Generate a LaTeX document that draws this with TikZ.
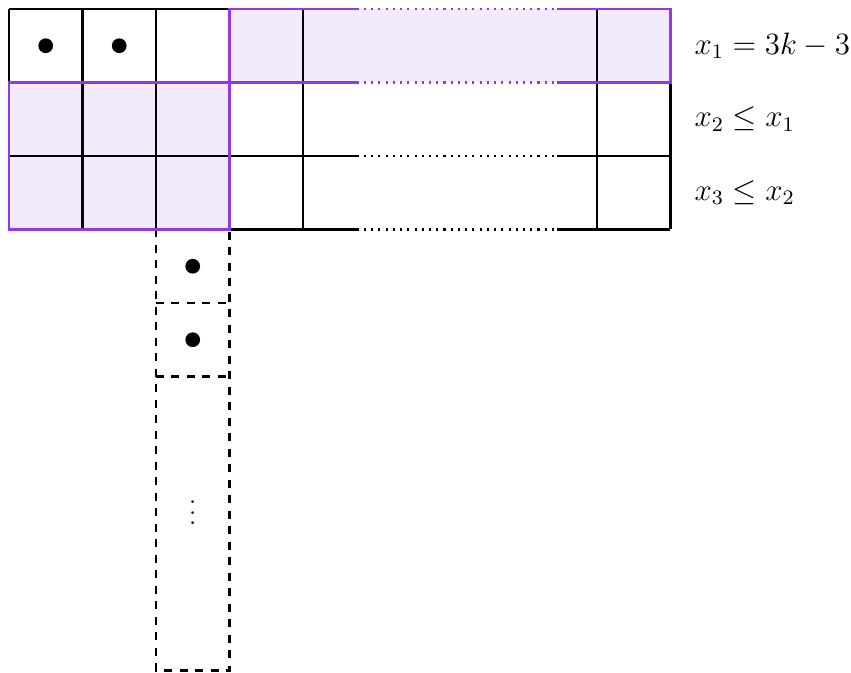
\documentclass[tikz,border=0pt]{standalone}
\usepackage{amssymb}
\usetikzlibrary{positioning}
\definecolor{gridviolet}{RGB}{146,56,232}
\definecolor{gridlilac}{RGB}{243,234,253}
\tikzset{
  gline/.style={draw=black,thick},
  vline/.style={draw=gridviolet,thick},
  vfill/.style={fill=gridlilac},
  ghost/.style={draw=black,thick,dashed},
  token/.style={circle,fill=black,minimum size=2mm,inner sep=0pt},
  rowlab/.style={anchor=west,font=\large,inner sep=2pt},
}

\begin{document}
\begin{tikzpicture}
\useasboundingbox (-0.122,0.122) rectangle (11.456,-9.034);

% ============ shaded cells ============
\fill[vfill] (3,0) rectangle (4.73,-1);
\fill[vfill] (4.73,0) rectangle (9,-1);
\fill[vfill] (0,-1) rectangle (3,-3);

% ============ black grid, gap in the middle ============
\foreach \x in {0,1,2,3,4,8,9} { \draw[gline] (\x,0) -- (\x,-3); }
\foreach \y in {0,-1,-2,-3} {
  \draw[gline] (0,\y) -- (4.73,\y);
  \draw[gline,dotted] (4.73,\y) -- (7.46,\y);
  \draw[gline] (7.46,\y) -- (9,\y);
}

% ============ dashed column below ============
\draw[ghost] (2,-3) -- (2,-9) -- (3,-9) -- (3,-3);
\foreach \y in {-4,-5} { \draw[ghost] (2,\y) -- (3,\y); }

% ============ violet outlines ============
\draw[vline] (0,-1) rectangle (3,-3);
\draw[vline] (4.73,0) -- (3,0) -- (3,-1) -- (4.73,-1);
\draw[vline,dotted] (4.73,0) -- (7.46,0);
\draw[vline,dotted] (4.73,-1) -- (7.46,-1);
\draw[vline] (7.46,0) -- (9,0) -- (9,-1) -- (7.46,-1);

% ============ tokens ============
\node[token] (t1) at (0.5,-0.5) {};
\node[token] (t2) at (1.5,-0.5) {};
\node[token] (t3) at (2.5,-3.5) {};
\node[token] (t4) at (2.5,-4.5) {};
\node (more) at (2.5,-6.75) {$\vdots$};

% ============ row conditions ============
\node[rowlab] (r1) at (9.25,-0.5) {$x_1 = 3k-3$};
\node[rowlab] (r2) at (9.25,-1.5) {$x_2 \le x_1$};
\node[rowlab] (r3) at (9.25,-2.5) {$x_3 \le x_2$};
\end{tikzpicture}
\end{document}
